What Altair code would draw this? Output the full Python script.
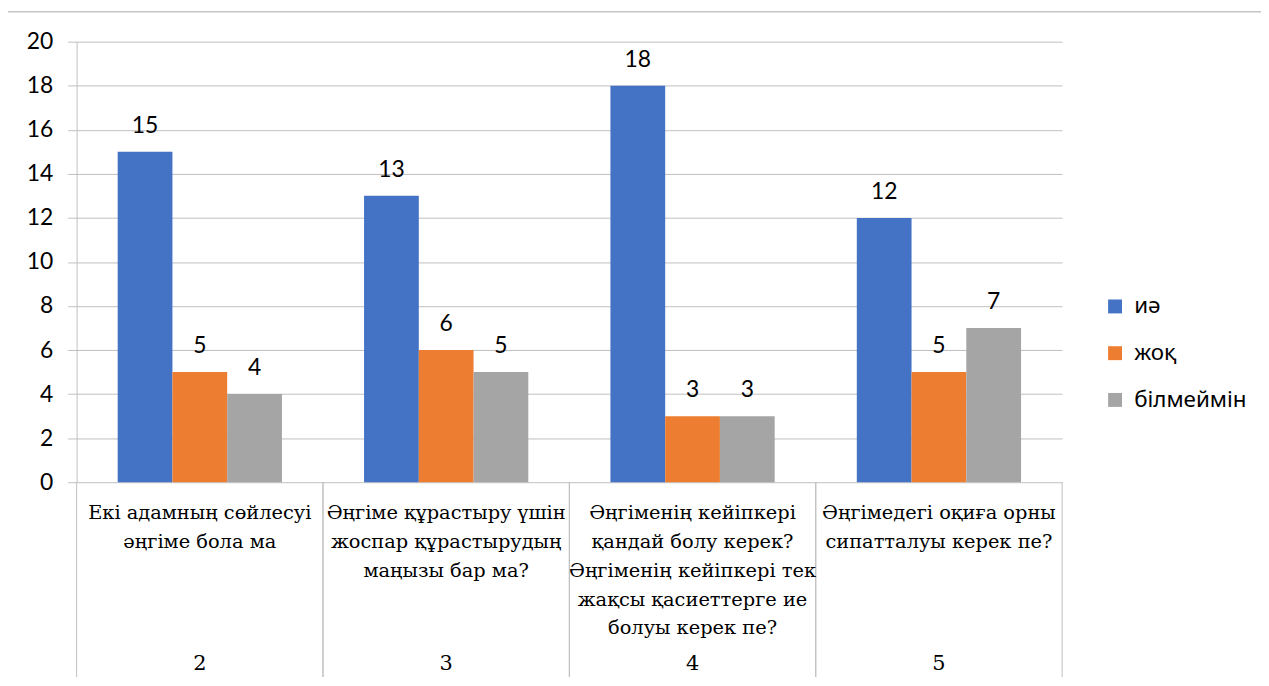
import altair as alt
import pandas as pd

categories = ["2", "3", "4", "5"]
questions = [
    "Екі адамның сөйлесуі\nәңгіме бола ма",
    "Әңгіме құрастыру үшін\nжоспар құрастырудың\nмаңызы бар ма?",
    "Әңгіменің кейіпкері\nқандай болу керек?\nӘңгіменің кейіпкері тек\nжақсы қасиеттерге  ие\nболуы керек пе?",
    "Әңгімедегі оқиға орны\nсипатталуы керек пе?",
]
series = ["иә", "жоқ", "білмеймін"]
yes_vals = [15, 13, 18, 12]
no_vals = [5, 6, 3, 5]
dunno_vals = [4, 5, 3, 7]
colors = ["#4472C4", "#ED7D31", "#A5A5A5"]

rows = []
for i, c in enumerate(categories):
    for s, vals in zip(series, [yes_vals, no_vals, dunno_vals]):
        rows.append({"cat": c, "series": s, "value": vals[i]})
df = pd.DataFrame(rows)
cat_df = pd.DataFrame({"cat": categories, "question": questions})

W, H = 991, 443
GRID = "#BFBFBF"
NUMFONT = "Lato"
LEGFONT = "Noto Sans"
SERIF = "DejaVu Serif"


def xband(**kw):
    return alt.X("cat:N", sort=categories, axis=None,
                 scale=alt.Scale(type="band", domain=categories,
                                 paddingInner=0, paddingOuter=0), **kw)


xoff = alt.XOffset("series:N", sort=series,
                   scale=alt.Scale(paddingInner=0, paddingOuter=0.75))
yenc = alt.Y("value:Q", scale=alt.Scale(domain=[0, 20], nice=False),
             axis=alt.Axis(values=list(range(0, 21, 2)), title=None,
                           grid=True, gridColor=GRID, gridWidth=1,
                           domainColor=GRID, tickColor=GRID, tickSize=9,
                           labelFontSize=23, labelFont=NUMFONT, labelColor="#000000",
                           labelPadding=15))

bars = alt.Chart(df).mark_bar().encode(
    x=xband(), xOffset=xoff, y=yenc,
    color=alt.Color("series:N", sort=series,
                    scale=alt.Scale(domain=series, range=colors),
                    legend=alt.Legend(title=None, orient="none", legendX=1033, legendY=255,
                                      symbolType="square", symbolSize=196,
                                      symbolStrokeWidth=0, labelFontSize=22.5,
                                      labelFont=LEGFONT, labelColor="#000000",
                                      rowPadding=24, labelOffset=8)),
)

vlabels = alt.Chart(df).mark_text(baseline="alphabetic", dy=-19, fontSize=23,
                                  font=NUMFONT, color="#000000").encode(
    x=xband(), xOffset=xoff, y=alt.Y("value:Q"), text=alt.Text("value:Q"))

qlabels = alt.Chart(cat_df).mark_text(baseline="alphabetic", fontSize=19.5, font=SERIF,
                                      lineBreak="\n", lineHeight=29,
                                      color="#000000").encode(
    x=xband(), y=alt.value(480), text="question:N")

nlabels = alt.Chart(cat_df).mark_text(baseline="middle", fontSize=21, font=SERIF,
                                      color="#000000").encode(
    x=xband(), y=alt.value(626), text="cat:N")

sep0 = alt.Chart(cat_df).mark_rule(color=GRID, strokeWidth=1).encode(
    x=xband(bandPosition=0), y=alt.value(H), y2=alt.value(H + 250))
sep1 = alt.Chart(cat_df).mark_rule(color=GRID, strokeWidth=1).encode(
    x=xband(bandPosition=1), y=alt.value(H), y2=alt.value(H + 250))

border = alt.Chart(pd.DataFrame({"a": [0]})).mark_rect(
    fill="transparent", stroke="#A6A6A6", strokeWidth=1).encode(
    x=alt.value(-69.5), x2=alt.value(W + 260),
    y=alt.value(-30), y2=alt.value(H + 260))

main = alt.layer(bars, vlabels)
deco = alt.layer(sep0, sep1, qlabels, nlabels)

chart = alt.layer(border, deco, main).resolve_scale(x="independent").properties(
    width=W, height=H,
    autosize=alt.AutoSizeParams(type="none"),
    padding={"left": 69, "top": 32, "right": 200, "bottom": 194},
    background="white",
).configure_view(strokeWidth=0)

chart.save("out.html", embed_options={"renderer": "svg", "actions": False})
